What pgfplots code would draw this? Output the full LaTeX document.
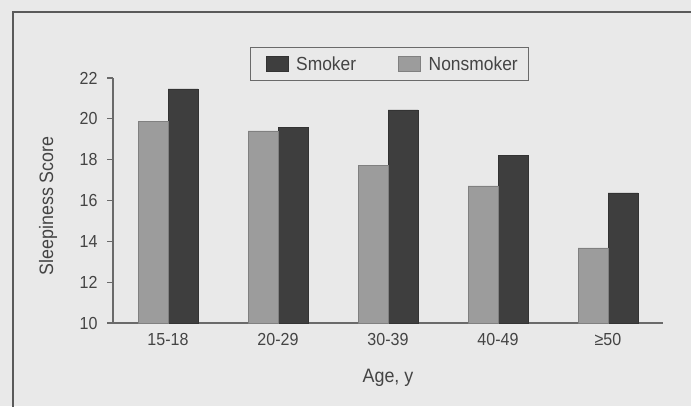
\documentclass[border=0pt]{standalone}
\usepackage{pgfplots}
\pgfplotsset{compat=1.18}
\usepackage{fontspec}
\setmainfont{Liberation Sans}[FakeStretch=0.92]
\definecolor{bg}{HTML}{E9E9E9}
\definecolor{framec}{HTML}{5A5A5A}
\definecolor{axisc}{HTML}{6A6A6A}
\definecolor{txt}{HTML}{444444}
\definecolor{smoker}{HTML}{3E3E3E}
\definecolor{smokerD}{HTML}{333333}
\definecolor{nonsm}{HTML}{9C9C9C}
\definecolor{nonsmD}{HTML}{808080}
\begin{document}
\begin{tikzpicture}[x=1bp,y=1bp]
\fill[bg] (0,0) rectangle (691,406);
\path[use as bounding box] (0,0) rectangle (691,406);
\draw[framec, line width=2bp] (13,-10) -- (13,394) -- (700,394);
\begin{axis}[
  at={(113bp,83bp)}, anchor=south west,
  scale only axis, width=550bp, height=245bp,
  xmin=-0.5, xmax=4.5, ymin=10, ymax=22,
  ytick={10,12,...,22},
  xtick={0,1,2,3,4},
  xticklabels={15-18,20-29,30-39,40-49,≥50},
  axis x line=bottom, axis y line=left,
  axis line style={-, draw=axisc, line width=1.3bp},
  tick align=outside,
  major tick length=6bp,
  xtick style={draw=none},
  ytick style={draw=axisc, line width=1.3bp},
  /pgf/number format/assume math mode=true,
  tick label style={font=\fontsize{17.5}{20}\selectfont, text=txt},
  xticklabel style={yshift=-1bp},
  yticklabel style={xshift=-6bp},
  xlabel={Age, y},
  ylabel={Sleepiness Score},
  label style={font=\fontsize{19.5}{22}\selectfont, text=txt},
  xlabel style={at={(rel axis cs:0.5,-0.224)}, anchor=center},
  ylabel style={at={(rel axis cs:-0.118,0.478)}, anchor=center, rotate=0},
  legend columns=2,
  legend style={at={(0.503,1.1265)}, anchor=north, draw=axisc, fill=none,
    line width=1.2bp, font=\fontsize{19}{22}\selectfont, text=txt,
    inner xsep=9bp, inner ysep=7bp,
    /tikz/every odd column/.append style={column sep=6bp},
    /tikz/every even column/.append style={column sep=34bp}},
  legend image code/.code={\path (0bp,0bp); \draw[#1, line width=0.6bp] (6bp,-7.5bp) rectangle (28bp,7.5bp);},
]
\addplot[ybar, bar width=30bp, bar shift=15bp, fill=smoker, draw=smokerD, line width=0.6bp]
  coordinates {(0,21.47) (1,19.59) (2,20.44) (3,18.19) (4,16.37)};
\addlegendentry{Smoker}
\addplot[ybar, bar width=30bp, bar shift=-15bp, fill=nonsm, draw=nonsmD, line width=0.6bp]
  coordinates {(0,19.87) (1,19.41) (2,17.71) (3,16.72) (4,13.68)};
\addlegendentry{Nonsmoker}
\end{axis}
\end{tikzpicture}
\end{document}
